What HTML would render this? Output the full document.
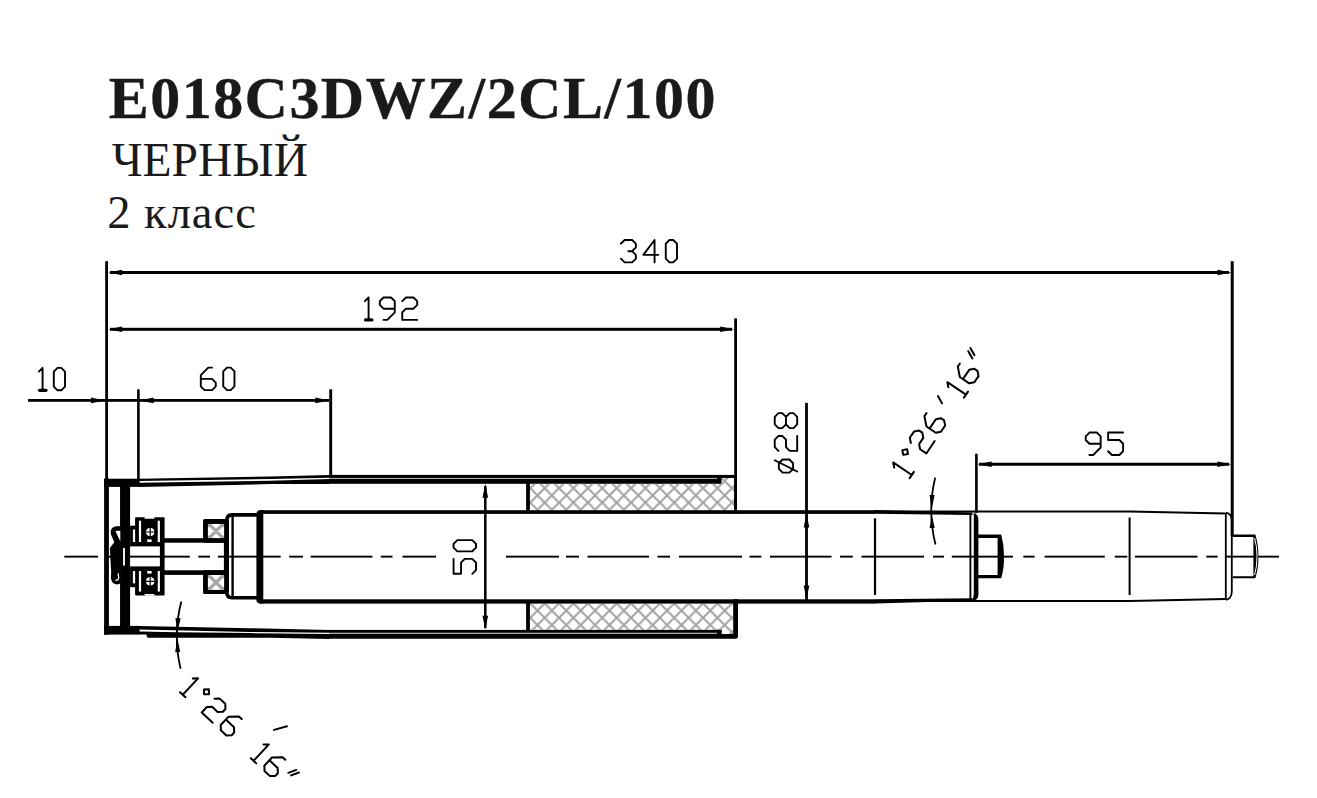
<!DOCTYPE html>
<html><head><meta charset="utf-8">
<style>
html,body{margin:0;padding:0;background:#fff;}
body{width:1317px;height:798px;overflow:hidden;position:relative;font-family:"Liberation Serif",serif;color:#1a1a1a;}
.t{position:absolute;white-space:nowrap;line-height:1;margin:0;}
#t1{left:108.8px;top:68px;font-size:60px;font-weight:bold;letter-spacing:1.45px;-webkit-text-stroke:0.35px #1a1a1a;}
#t2{left:111.7px;top:136.6px;font-size:47.5px;}
#t3{left:107.2px;top:189.8px;font-size:46.5px;letter-spacing:1.0px;}
svg{position:absolute;left:0;top:0;}
</style></head>
<body>
<div class="t" id="t1">E018C3DWZ/2CL/100</div>
<div class="t" id="t2">ЧЕРНЫЙ</div>
<div class="t" id="t3">2 класс</div>
<svg width="1317" height="798" viewBox="0 0 1317 798">
<defs>
<pattern id="h1" patternUnits="userSpaceOnUse" width="14.4" height="14.4" x="530.26" y="488.2">
<path d="M-2 -2 L16.4 16.4 M-2 16.4 L16.4 -2 M-5 5 L5 -5 M9.4 19.4 L19.4 9.4 M9.4 -5 L19.4 5 M-5 9.4 L5 19.4" stroke="#a4a4a4" stroke-width="2.1" fill="none"/>
</pattern>
<pattern id="h2" patternUnits="userSpaceOnUse" width="8" height="8" x="208.1" y="524.1">
<rect width="8" height="8" fill="#fff"/>
<path d="M-1 -1 L9 9 M-1 9 L9 -1" stroke="#a6a6a6" stroke-width="2.6" fill="none"/>
</pattern>
</defs>
<rect x="64.30" y="555.70" width="33.80" height="1.90" fill="#000"/>
<rect x="105.70" y="555.70" width="6.30" height="1.90" fill="#000"/>
<rect x="129.00" y="555.70" width="60.80" height="1.90" fill="#000"/>
<rect x="198.30" y="555.70" width="11.70" height="1.90" fill="#000"/>
<rect x="217.90" y="555.70" width="62.80" height="1.90" fill="#000"/>
<rect x="289.20" y="555.70" width="13.80" height="1.90" fill="#000"/>
<rect x="310.70" y="555.70" width="61.70" height="1.90" fill="#000"/>
<rect x="380.80" y="555.70" width="11.70" height="1.90" fill="#000"/>
<rect x="402.50" y="555.70" width="33.50" height="1.90" fill="#000"/>
<rect x="506.00" y="555.70" width="53.00" height="1.90" fill="#000"/>
<rect x="566.00" y="555.70" width="13.00" height="1.90" fill="#000"/>
<rect x="587.50" y="555.70" width="61.50" height="1.90" fill="#000"/>
<rect x="657.50" y="555.70" width="12.50" height="1.90" fill="#000"/>
<rect x="679.00" y="555.70" width="63.00" height="1.90" fill="#000"/>
<rect x="749.50" y="555.70" width="11.80" height="1.90" fill="#000"/>
<rect x="770.00" y="555.70" width="61.50" height="1.90" fill="#000"/>
<rect x="840.00" y="555.70" width="12.80" height="1.90" fill="#000"/>
<rect x="861.50" y="555.70" width="62.50" height="1.90" fill="#000"/>
<rect x="933.00" y="555.70" width="11.00" height="1.90" fill="#000"/>
<rect x="951.80" y="555.70" width="61.20" height="1.90" fill="#000"/>
<rect x="1023.30" y="555.70" width="11.30" height="1.90" fill="#000"/>
<rect x="1044.60" y="555.70" width="60.20" height="1.90" fill="#000"/>
<rect x="1114.80" y="555.70" width="12.50" height="1.90" fill="#000"/>
<rect x="1134.90" y="555.70" width="62.60" height="1.90" fill="#000"/>
<rect x="1206.30" y="555.70" width="11.30" height="1.90" fill="#000"/>
<rect x="1225.00" y="555.70" width="54.00" height="1.90" fill="#000"/>
<rect x="105.20" y="261.20" width="2.80" height="218.80" fill="#000"/>
<rect x="1230.70" y="261.20" width="3.00" height="274.80" fill="#000"/>
<rect x="110.00" y="271.00" width="1119.00" height="3.00" fill="#000"/>
<polygon points="108.20,272.50 122.20,269.70 122.20,275.30" fill="#000"/>
<polygon points="1231.40,272.50 1217.40,275.30 1217.40,269.70" fill="#000"/>
<rect x="734.20" y="318.40" width="2.80" height="195.10" fill="#000"/>
<rect x="110.00" y="327.80" width="622.00" height="3.00" fill="#000"/>
<polygon points="108.20,329.30 122.20,326.50 122.20,332.10" fill="#000"/>
<polygon points="734.20,329.30 720.20,332.10 720.20,326.50" fill="#000"/>
<rect x="28.10" y="399.00" width="300.90" height="2.80" fill="#000"/>
<polygon points="105.00,400.40 91.00,403.20 91.00,397.60" fill="#000"/>
<polygon points="139.60,400.40 153.60,397.60 153.60,403.20" fill="#000"/>
<polygon points="329.30,400.40 315.30,403.20 315.30,397.60" fill="#000"/>
<rect x="137.10" y="389.30" width="2.60" height="90.70" fill="#000"/>
<rect x="329.25" y="389.30" width="2.90" height="87.70" fill="#000"/>
<rect x="979.00" y="462.75" width="250.00" height="3.00" fill="#000"/>
<polygon points="977.60,464.25 991.60,461.45 991.60,467.05" fill="#000"/>
<polygon points="1231.40,464.25 1217.40,467.05 1217.40,461.45" fill="#000"/>
<rect x="975.10" y="453.75" width="2.60" height="59.25" fill="#000"/>
<rect x="805.10" y="402.90" width="2.80" height="198.10" fill="#000"/>
<polygon points="806.50,513.60 809.30,527.60 803.70,527.60" fill="#000"/>
<polygon points="806.50,599.60 803.70,585.60 809.30,585.60" fill="#000"/>
<rect x="484.05" y="486.00" width="2.50" height="142.00" fill="#000"/>
<polygon points="485.30,483.80 488.10,497.80 482.50,497.80" fill="#000"/>
<polygon points="485.30,629.80 482.50,615.80 488.10,615.80" fill="#000"/>
<rect x="873.90" y="518.40" width="2.20" height="76.50" fill="#000"/>
<rect x="1128.60" y="517.50" width="2.00" height="77.50" fill="#000"/>
<path d="M620.90 243.70 L624.64 239.96 L632.12 239.96 L635.86 243.70 L635.86 247.44 L632.12 251.18 L628.38 251.18 M632.12 251.18 L635.86 254.92 L635.86 258.66 L632.12 262.40 L624.64 262.40 L620.90 258.66 M654.56 262.40 L654.56 239.96 L643.34 254.92 L658.30 254.92 M669.52 262.40 L673.26 262.40 L677.00 258.66 L677.00 243.70 L673.26 239.96 L669.52 239.96 L665.78 243.70 L665.78 258.66 L669.52 262.40" fill="none" stroke="#000" stroke-width="1.90" stroke-linecap="round" stroke-linejoin="round"/>
<path d="M364.85 301.20 L368.59 297.46 L368.59 319.90 M383.55 319.90 L387.29 319.90 L394.77 312.42 L394.77 301.20 L391.03 297.46 L383.55 297.46 L379.81 301.20 L379.81 304.94 L383.55 308.68 L394.77 308.68 M402.25 301.20 L405.99 297.46 L413.47 297.46 L417.21 301.20 L417.21 304.94 L413.47 308.68 L405.99 308.68 L402.25 312.42 L402.25 319.90 L417.21 319.90" fill="none" stroke="#000" stroke-width="1.90" stroke-linecap="round" stroke-linejoin="round"/>
<path d="M365.60 319.90 L371.96 319.90" fill="none" stroke="#000" stroke-width="3.30" stroke-linecap="round"/>
<path d="M38.83 371.60 L42.57 367.86 L42.57 390.30 M57.53 390.30 L61.27 390.30 L65.01 386.56 L65.01 371.60 L61.27 367.86 L57.53 367.86 L53.79 371.60 L53.79 386.56 L57.53 390.30" fill="none" stroke="#000" stroke-width="1.90" stroke-linecap="round" stroke-linejoin="round"/>
<path d="M39.58 390.30 L45.94 390.30" fill="none" stroke="#000" stroke-width="3.30" stroke-linecap="round"/>
<path d="M212.02 367.66 L208.28 367.66 L200.80 375.14 L200.80 386.36 L204.54 390.10 L212.02 390.10 L215.76 386.36 L215.76 382.62 L212.02 378.88 L200.80 378.88 M226.98 390.10 L230.72 390.10 L234.46 386.36 L234.46 371.40 L230.72 367.66 L226.98 367.66 L223.24 371.40 L223.24 386.36 L226.98 390.10" fill="none" stroke="#000" stroke-width="1.90" stroke-linecap="round" stroke-linejoin="round"/>
<path d="M1089.44 455.00 L1093.18 455.00 L1100.66 447.52 L1100.66 436.30 L1096.92 432.56 L1089.44 432.56 L1085.70 436.30 L1085.70 440.04 L1089.44 443.78 L1100.66 443.78 M1123.10 432.56 L1108.14 432.56 L1108.14 440.04 L1119.36 440.04 L1123.10 443.78 L1123.10 451.26 L1119.36 455.00 L1111.88 455.00 L1108.14 451.26" fill="none" stroke="#000" stroke-width="1.90" stroke-linecap="round" stroke-linejoin="round"/>
<path d="M793.09 468.86 L793.09 463.25 L789.35 459.51 L782.61 459.51 L778.87 463.25 L778.87 468.86 L782.61 472.60 L789.35 472.60 L793.09 468.86 M797.20 471.48 L774.76 460.26 M778.50 450.91 L774.76 447.17 L774.76 439.69 L778.50 435.95 L782.24 435.95 L785.98 439.69 L785.98 447.17 L789.72 450.91 L797.20 450.91 L797.20 435.95 M797.20 424.35 L797.20 416.87 L793.46 413.13 L789.72 413.13 L785.98 416.87 L782.24 413.13 L778.50 413.13 L774.76 416.87 L774.76 424.35 L778.50 428.09 L782.24 428.09 L785.98 424.35 L789.72 428.09 L793.46 428.09 L797.20 424.35 M785.98 424.35 L785.98 416.87" fill="none" stroke="#000" stroke-width="1.90" stroke-linecap="round" stroke-linejoin="round"/>
<path d="M453.56 558.84 L453.56 573.80 L461.04 573.80 L461.04 562.58 L464.78 558.84 L472.26 558.84 L476.00 562.58 L476.00 570.06 L472.26 573.80 M476.00 547.62 L476.00 543.88 L472.26 540.14 L457.30 540.14 L453.56 543.88 L453.56 547.62 L457.30 551.36 L472.26 551.36 L476.00 547.62" fill="none" stroke="#000" stroke-width="1.90" stroke-linecap="round" stroke-linejoin="round"/>
<path d="M894.20 467.64 L893.19 462.45 L911.79 475.00 M909.70 478.10 L913.88 471.90 M908.03 453.96 L907.10 449.19 L902.32 450.12 L903.25 454.89 L908.03 453.96 M910.82 442.99 L909.81 437.80 L914.00 431.60 L919.19 430.59 L922.29 432.68 L923.30 437.87 L919.12 444.08 L920.13 449.27 L926.33 453.45 L934.69 441.05 M926.55 413.00 L924.45 416.10 L926.47 426.48 L935.77 432.76 L940.97 431.75 L945.15 425.54 L944.14 420.35 L941.04 418.26 L935.85 419.27 L929.57 428.57 M948.36 387.34 L947.35 382.15 L965.96 394.69 M963.87 397.79 L968.05 391.59 M959.90 363.54 L957.81 366.64 L959.83 377.03 L969.13 383.30 L974.32 382.29 L978.51 376.09 L977.50 370.90 L974.40 368.81 L969.20 369.82 L962.93 379.12 M972.38 358.42 L968.27 351.14 M974.47 355.32 L970.36 348.04 M942.05 403.38 L937.94 396.10" fill="none" stroke="#000" stroke-width="2.00" stroke-linecap="round" stroke-linejoin="round"/>
<path d="M192.75 678.52 L198.04 678.34 L182.74 694.75 M180.00 692.20 L185.47 697.30 M204.10 694.32 L208.96 694.15 L208.79 689.29 L203.93 689.46 L204.10 694.32 M214.50 698.80 L219.78 698.62 L225.26 703.72 L225.44 709.00 L222.89 711.74 L217.60 711.92 L212.13 706.82 L206.85 707.01 L201.75 712.48 L212.69 722.68 M241.67 719.02 L238.93 716.47 L228.36 716.84 L220.71 725.05 L220.89 730.33 L226.36 735.43 L231.65 735.25 L234.20 732.51 L234.01 727.23 L225.81 719.58 M263.60 744.59 L268.88 744.40 L253.58 760.81 M250.84 758.26 L256.31 763.36 M285.29 759.71 L282.56 757.15 L271.99 757.52 L264.34 765.73 L264.52 771.02 L269.99 776.12 L275.28 775.93 L277.83 773.20 L277.64 767.91 L269.44 760.26 M288.40 772.83 L296.24 769.91 M291.13 775.38 L298.97 772.46" fill="none" stroke="#000" stroke-width="2.00" stroke-linecap="round" stroke-linejoin="round"/>
<path d="M274 729.9 L287 726.2" stroke="#000" stroke-width="2.0" stroke-linecap="round"/>
<path d="M935.2 477.6 A140 140 0 0 0 935.5 544.5" fill="none" stroke="#000" stroke-width="1.8"/>
<polygon points="931.50,510.00 929.66,494.91 934.65,495.12" fill="#000"/>
<polygon points="931.60,514.00 934.71,527.88 929.71,528.10" fill="#000"/>
<path d="M181.3 601.4 A140 140 0 0 0 180.6 668.7" fill="none" stroke="#000" stroke-width="1.8"/>
<polygon points="177.30,632.50 175.40,618.08 180.69,618.36" fill="#000"/>
<polygon points="177.30,637.60 180.18,652.03 175.18,652.16" fill="#000"/>
<rect x="104.10" y="478.70" width="4.80" height="155.90" fill="#000"/>
<rect x="104.10" y="478.70" width="35.50" height="8.20" fill="#000"/>
<rect x="104.10" y="625.90" width="35.50" height="8.70" fill="#000"/>
<rect x="120.05" y="486.00" width="10.05" height="141.00" fill="#000"/>
<polygon points="139.00,478.70 270.00,476.40 329.50,475.00 329.50,477.80 270.00,479.10 139.00,481.00" fill="#000"/>
<polygon points="139.00,482.80 270.00,480.80 329.50,479.10 329.50,483.90 270.00,484.10 139.00,486.90" fill="#000"/>
<rect x="329.00" y="474.90" width="408.00" height="3.10" fill="#000"/>
<rect x="329.00" y="477.90" width="388.00" height="1.20" fill="#a8a8a8"/>
<rect x="717.00" y="477.50" width="4.60" height="2.50" fill="#000"/>
<rect x="329.00" y="479.00" width="392.60" height="4.80" fill="#000"/>
<polygon points="139.00,625.90 250.00,628.20 329.50,629.90 329.50,632.80 250.00,631.90 139.00,629.60" fill="#000"/>
<polygon points="139.00,631.40 177.00,632.30 250.00,633.10 329.50,634.00 329.50,638.90 270.00,637.80 147.50,637.80 146.20,634.60 139.00,634.60" fill="#000"/>
<rect x="329.00" y="629.90" width="392.60" height="3.00" fill="#000"/>
<rect x="329.00" y="632.80" width="388.00" height="1.30" fill="#a8a8a8"/>
<rect x="717.00" y="629.40" width="4.60" height="5.60" fill="#000"/>
<polygon points="329.00,634.00 738.00,634.00 738.00,637.30 736.40,638.80 329.00,638.80" fill="#000"/>
<polygon points="529.90,483.70 721.60,483.70 721.60,478.00 734.30,478.00 734.30,510.20 529.90,510.20" fill="url(#h1)"/>
<polygon points="529.90,603.70 733.30,603.70 733.30,634.10 721.60,634.10 721.60,630.10 529.90,630.10" fill="url(#h1)"/>
<rect x="526.10" y="483.00" width="3.80" height="28.00" fill="#000"/>
<rect x="526.10" y="603.00" width="3.80" height="28.00" fill="#000"/>
<rect x="734.20" y="477.00" width="2.80" height="36.50" fill="#000"/>
<rect x="733.20" y="599.30" width="4.80" height="36.70" fill="#000"/>
<rect x="259.50" y="510.20" width="615.50" height="3.70" fill="#000"/>
<rect x="259.50" y="599.30" width="615.50" height="4.30" fill="#000"/>
<path d="M263.3 510.2 L260.2 510.2 Q256.4 510.2 256.4 514 L256.4 599.8 Q256.4 603.6 260.2 603.6 L263.3 603.6 Z" fill="#000"/>
<polygon points="874.50,510.00 972.50,512.60 972.50,515.00 874.50,513.80" fill="#000"/>
<polygon points="874.50,599.30 972.50,598.20 972.50,600.80 874.50,603.50" fill="#000"/>
<rect x="969.45" y="513.00" width="1.90" height="87.00" fill="#000"/>
<path d="M973.8 519 L973.8 512.5 L976.5 514.5 Q978.4 516.5 978.4 519.5 L978.4 594.5 Q978.4 599.5 973 601.2 L971 601.2 Q973.8 598.5 973.8 594 Z" fill="#000"/>
<path d="M978 534.4 L1001.2 534.4 Q1004.2 545 1004.0 556.4 Q1004.2 568 1001.2 578.3 L978 578.3 L978 575 L997.6 575 L997.6 537.9 L978 537.9 Z" fill="#000"/>
<path d="M874.5 511.5 L1129.7 511.5 L1225.6 513.4" stroke="#000" stroke-width="2.0" fill="none"/>
<path d="M874.5 600.9 L1129.7 600.9 L1225.6 599.1" stroke="#000" stroke-width="2.0" fill="none"/>
<path d="M1225.8 513 L1225.8 599.5" stroke="#000" stroke-width="1.8" fill="none"/>
<path d="M1226 512.6 Q1231.3 513.5 1231.8 520 L1231.8 592 Q1231.3 598.8 1226 599.8" stroke="#000" stroke-width="1.8" fill="none"/>
<path d="M1232.8 534.5 L1255.3 534.5 Q1258.6 545 1258.4 556.4 Q1258.6 568 1255.3 578.3 L1232.8 578.3 L1232.8 576.2 L1253.4 576.2 L1253.4 537.0 L1232.8 537.0 Z" fill="#000"/>
<path d="M1254.6 538 Q1257.2 547 1257.0 556.4 Q1257.2 566 1254.6 575" stroke="#fff" stroke-width="1.0" fill="none"/>
<path d="M258 514.85 L232 514.85 Q226.8 514.85 226.8 520.5 L226.8 592.3 Q226.8 597.75 232 597.75 L258 597.75" fill="none" stroke="#000" stroke-width="3.6"/>
<rect x="231.40" y="516.00" width="2.40" height="81.00" fill="#000"/>
<rect x="223.90" y="521.00" width="5.10" height="71.00" fill="#000"/>
<rect x="164.00" y="538.20" width="62.00" height="4.50" fill="#000"/>
<rect x="164.00" y="570.30" width="62.00" height="4.60" fill="#000"/>
<rect x="203.05" y="519.00" width="25.5" height="23.80" rx="1.5" fill="#000"/>
<rect x="207.90" y="523.95" width="16.20" height="14.15" fill="#fff"/>
<svg x="207.9" y="523.95" width="16.2" height="14.15" viewBox="207.9 523.95 16.2 14.15"><path d="M181.60 511.03 L221.60 551.03 M181.60 551.03 L221.60 511.03 M196.00 511.03 L236.00 551.03 M196.00 551.03 L236.00 511.03 M210.40 511.03 L250.40 551.03 M210.40 551.03 L250.40 511.03 " stroke="#a8a8a8" stroke-width="3.3" fill="none"/></svg>
<rect x="203.05" y="570.30" width="25.5" height="23.70" rx="1.5" fill="#000"/>
<rect x="207.90" y="575.00" width="16.20" height="14.90" fill="#fff"/>
<svg x="207.9" y="575.00" width="16.2" height="14.90" viewBox="207.9 575.00 16.2 14.90"><path d="M181.60 562.45 L221.60 602.45 M181.60 602.45 L221.60 562.45 M196.00 562.45 L236.00 602.45 M196.00 602.45 L236.00 562.45 M210.40 562.45 L250.40 602.45 M210.40 602.45 L250.40 562.45 " stroke="#a8a8a8" stroke-width="3.3" fill="none"/></svg>
<rect x="135.1" y="517.2" width="29.5" height="78.3" rx="1" fill="#000"/>
<rect x="130.10" y="525.70" width="5.40" height="61.50" fill="#000"/>
<rect x="130.10" y="546.40" width="29.80" height="20.00" fill="#fff"/>
<rect x="129.00" y="555.70" width="36.00" height="1.90" fill="#000"/>
<rect x="138.90" y="520.70" width="2.20" height="21.30" fill="#fff"/>
<rect x="157.70" y="520.70" width="2.20" height="21.30" fill="#fff"/>
<rect x="138.90" y="571.00" width="2.20" height="20.60" fill="#fff"/>
<rect x="157.70" y="571.00" width="2.20" height="20.60" fill="#fff"/>
<rect x="132.90" y="529.50" width="2.20" height="12.50" fill="#fff"/>
<rect x="132.90" y="571.00" width="2.20" height="12.40" fill="#fff"/>
<circle cx="150.2" cy="532.00" r="4.3" fill="#fff"/>
<path d="M150.2 527.00 V537.00 M145.5 532.00 H158" stroke="#000" stroke-width="1.2" fill="none"/>
<circle cx="150.2" cy="581.30" r="4.3" fill="#fff"/>
<path d="M150.2 576.30 V586.30 M145.5 581.30 H158" stroke="#000" stroke-width="1.2" fill="none"/>
<rect x="147.20" y="539.40" width="4.40" height="2.60" fill="#fff"/>
<rect x="147.20" y="571.00" width="4.40" height="2.60" fill="#fff"/>
<rect x="144.60" y="517.00" width="9.80" height="1.70" fill="#fff"/>
<rect x="144.60" y="594.00" width="9.80" height="1.70" fill="#fff"/>
<path d="M120.5 526.3 L116.5 526.3 Q111.4 526.8 110.7 531.2 Q110.5 533.5 111.4 535.6 L114.3 542.3 L109.9 548.1 L110.5 560 L111.2 572.6 Q110.5 577 111.3 580 Q112.8 584.3 117 584.4 L120.5 583.4 Z" fill="#000"/>
<path d="M115.6 531.6 Q116.2 530.6 117.5 530.7 L120.3 530.7 L120.3 541.2 Z" fill="#fff"/>
<path d="M118.2 573.6 L118.7 577.6 Q118.4 580.2 115.9 580.4" stroke="#fff" stroke-width="1.2" fill="none" stroke-linecap="round"/>
<rect x="123.05" y="548.00" width="1.85" height="17.60" fill="#fff"/>
</svg>
</body></html>
